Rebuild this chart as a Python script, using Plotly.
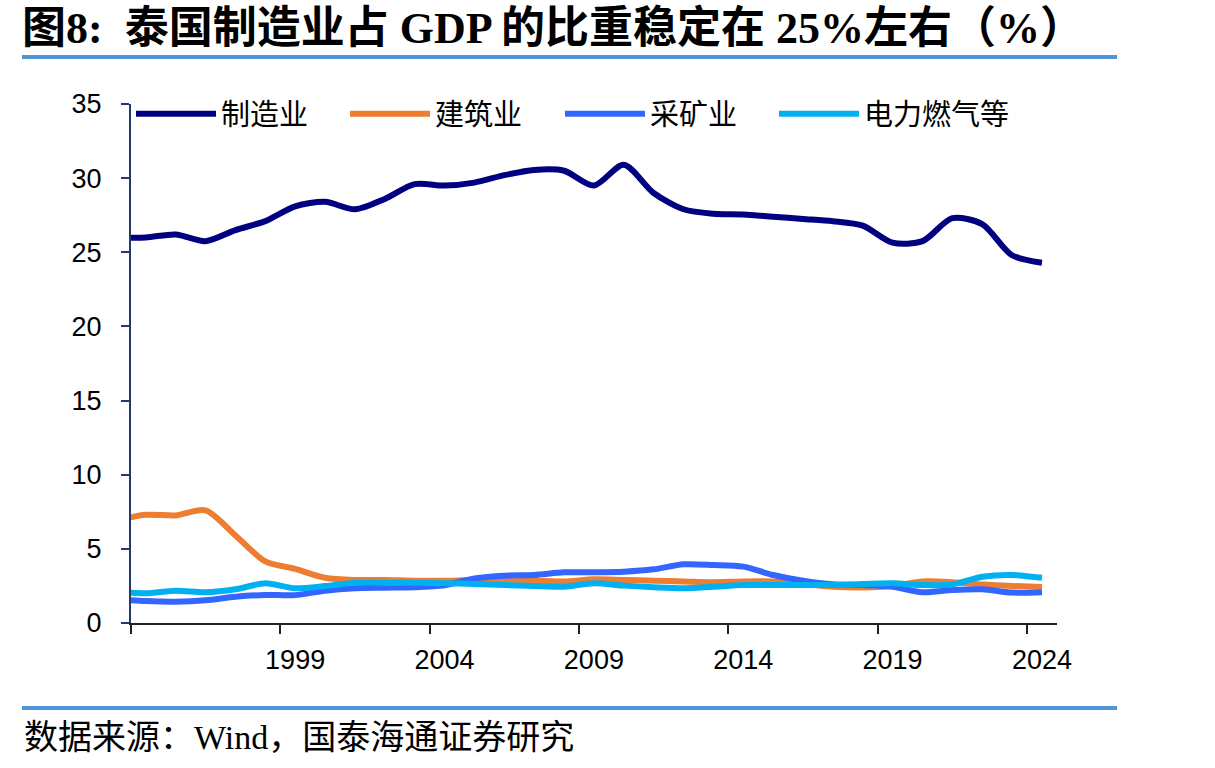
import plotly.graph_objects as go

# ---------------- data ----------------
years = list(range(1993, 2025))
manufacturing = [26.0, 26.0, 26.2, 25.75, 26.5, 27.1, 28.1, 28.4, 27.9, 28.6, 29.6,
                 29.5, 29.7, 30.2, 30.55, 30.5, 29.5, 30.9, 29.0, 27.9, 27.6, 27.55,
                 27.4, 27.25, 27.1, 26.8, 25.65, 25.75, 27.3, 26.9, 24.8, 24.3]
construction = [6.9, 7.3, 7.25, 7.6, 5.9, 4.15, 3.65, 3.05, 2.9, 2.9, 2.85,
                2.85, 2.9, 2.85, 2.85, 2.8, 2.95, 2.9, 2.85, 2.8, 2.75, 2.8,
                2.8, 2.65, 2.45, 2.4, 2.5, 2.8, 2.75, 2.6, 2.5, 2.43]
mining = [1.6, 1.48, 1.44, 1.53, 1.77, 1.89, 1.88, 2.18, 2.34, 2.38, 2.41,
          2.55, 3.0, 3.19, 3.24, 3.42, 3.42, 3.46, 3.62, 3.96, 3.91, 3.8,
          3.24, 2.85, 2.61, 2.56, 2.45, 2.07, 2.22, 2.27, 2.05, 2.08]
utilities = [2.1, 2.0, 2.18, 2.07, 2.27, 2.68, 2.34, 2.49, 2.72, 2.72, 2.72,
             2.68, 2.63, 2.56, 2.49, 2.45, 2.68, 2.52, 2.41, 2.34, 2.45, 2.56,
             2.56, 2.56, 2.56, 2.63, 2.68, 2.56, 2.6, 3.12, 3.24, 3.05]

series_names = ["制造业", "建筑业", "采矿业", "电力燃气等"]
series_values = [manufacturing, construction, mining, utilities]
series_colors = ["#000080", "#ED7D31", "#3366FF", "#00B0F0"]

tick_years = [1994, 1999, 2004, 2009, 2014, 2019, 2024]
label_years = [1999, 2004, 2009, 2014, 2019, 2024]
label_text = [str(y) for y in label_years]
y_ticks = [0, 5, 10, 15, 20, 25, 30, 35]

title_text = "<b>图8:  泰国制造业占 GDP 的比重稳定在 25%左右（%）</b>"
source_text = "数据来源：Wind，国泰海通证券研究"

W, H = 1215, 768
L, R, T, B = 131, 158, 104, 145
pw, ph = W - L - R, H - T - B

def px_x(px):
    return (px - L) / pw

def px_y(py):
    return (H - B - py) / ph

# annual values plotted at mid-year
x_dates = [f"{y}-07-01" for y in years]
legend_ids = ["legend", "legend2", "legend3", "legend4"]
legend_px = [131, 345, 560, 774]

fig = go.Figure()
for name, vals, col, lid in zip(series_names, series_values, series_colors, legend_ids):
    fig.add_trace(go.Scatter(
        x=x_dates, y=vals, name=name, mode="lines", legend=lid,
        line=dict(color=col, width=6, shape="spline", smoothing=0.8),
        cliponaxis=True,
    ))

legend_common = dict(orientation="h", xanchor="left", y=1.03, yanchor="top",
                     font=dict(family="Noto Sans CJK SC", size=29, color="black"),
                     itemwidth=80, bgcolor="rgba(0,0,0,0)")
legend_layout = {lid: dict(legend_common, x=px_x(p)) for lid, p in zip(legend_ids, legend_px)}

fig.update_layout(
    width=W, height=H,
    margin=dict(l=L, r=R, t=T, b=B),
    paper_bgcolor="white", plot_bgcolor="white",
    font=dict(family="Liberation Sans, Arial, sans-serif", color="black"),
    title=dict(text=title_text, x=22 / W, xanchor="left", y=1 - 28 / H, yanchor="middle",
               font=dict(family="Liberation Serif, Noto Sans CJK SC, serif", size=44, color="black")),
    showlegend=True,
    **legend_layout,
    xaxis=dict(
        type="date",
        range=["1994-01-01", "2025-01-01"],
        tickmode="array",
        tickvals=[f"{y}-07-01" for y in label_years],
        ticktext=label_text,
        ticks="", showgrid=False, zeroline=False,
        showline=True, linecolor="#222222", linewidth=2,
        tickfont=dict(size=27, color="black"),
        ticklabelstandoff=12,
        minor=dict(tickmode="array", tickvals=[f"{y}-01-01" for y in tick_years],
                   ticks="outside", ticklen=9, tickwidth=2, tickcolor="#222222", showgrid=False),
    ),
    yaxis=dict(
        range=[0, 35], tickmode="array", tickvals=y_ticks,
        ticks="outside", ticklen=8, tickwidth=2, tickcolor="#1F3A6E",
        showline=True, linecolor="#1F3A6E", linewidth=2,
        showgrid=False, zeroline=False,
        tickfont=dict(size=27, color="black"),
        ticklabelstandoff=14,
    ),
    shapes=[
        dict(type="line", xref="paper", yref="paper", x0=px_x(22), x1=px_x(1117),
             y0=px_y(57), y1=px_y(57), line=dict(color="#4F94D4", width=4)),
        dict(type="line", xref="paper", yref="paper", x0=px_x(22), x1=px_x(1117),
             y0=px_y(708), y1=px_y(708), line=dict(color="#4F94D4", width=4)),
    ],
    annotations=[
        dict(text=source_text, xref="paper", yref="paper", x=px_x(22), y=px_y(737),
             xanchor="left", yanchor="middle", showarrow=False,
             font=dict(family="Liberation Serif, Noto Sans CJK SC, serif", size=34, color="black")),
    ],
)

fig.write_html("out.html")
